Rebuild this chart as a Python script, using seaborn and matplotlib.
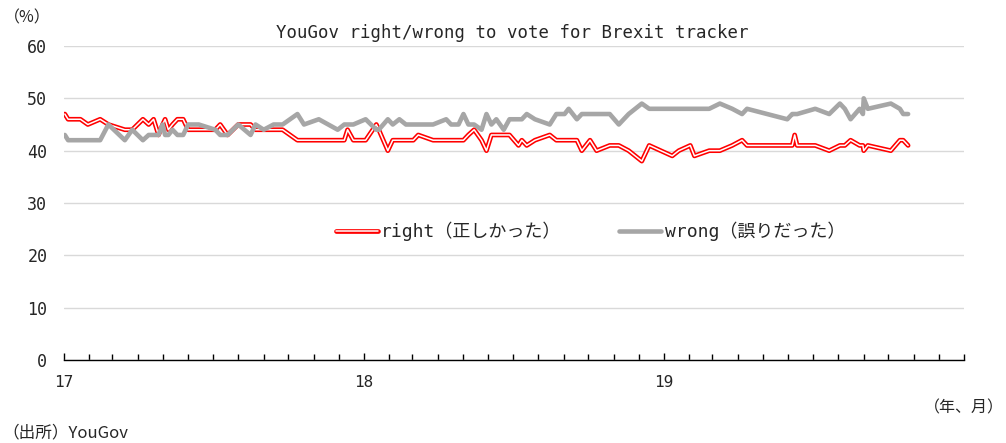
import matplotlib
matplotlib.use("Agg")
import matplotlib.pyplot as plt
import matplotlib.dates as mdates
import matplotlib.patheffects as pe
import matplotlib.ticker as mtick
import pandas as pd
import seaborn as sns

# YouGov tracker: "in hindsight, was Britain right or wrong to vote to leave the EU?"
poll_dates = [
    "2017-01-02", "2017-01-06", "2017-01-21", "2017-01-30", "2017-02-14", "2017-02-24",
    "2017-03-16", "2017-03-25", "2017-04-07", "2017-04-14", "2017-04-20", "2017-04-26",
    "2017-05-01", "2017-05-04", "2017-05-08", "2017-05-13", "2017-05-19", "2017-05-26",
    "2017-06-01", "2017-06-14", "2017-07-04", "2017-07-10", "2017-07-19", "2017-08-01",
    "2017-08-16", "2017-08-22", "2017-09-01", "2017-09-13", "2017-09-24", "2017-10-12",
    "2017-10-20", "2017-11-07", "2017-11-30", "2017-12-08", "2017-12-12", "2017-12-19",
    "2018-01-03", "2018-01-16", "2018-01-19", "2018-01-30", "2018-02-05", "2018-02-13",
    "2018-02-21", "2018-03-02", "2018-03-08", "2018-03-26", "2018-04-11", "2018-04-17",
    "2018-04-26", "2018-05-02", "2018-05-08", "2018-05-15", "2018-05-24", "2018-05-30",
    "2018-06-05", "2018-06-11", "2018-06-20", "2018-06-27", "2018-07-08", "2018-07-12",
    "2018-07-18", "2018-07-28", "2018-08-15", "2018-08-23", "2018-09-02", "2018-09-07",
    "2018-09-17", "2018-09-23", "2018-10-03", "2018-10-11", "2018-10-27", "2018-11-07",
    "2018-11-19", "2018-12-05", "2018-12-14", "2019-01-11", "2019-01-19", "2019-02-02",
    "2019-02-07", "2019-02-25", "2019-03-10", "2019-03-25", "2019-04-06", "2019-04-12",
    "2019-05-31", "2019-06-06", "2019-06-09", "2019-06-12", "2019-07-04", "2019-07-21",
    "2019-08-03", "2019-08-09", "2019-08-16", "2019-08-27", "2019-08-31", "2019-09-01",
    "2019-09-06", "2019-10-04", "2019-10-15", "2019-10-19", "2019-10-25",
]
right_pct = [
    47, 46, 46, 45, 46, 45, 44, 44, 46, 45, 46, 43,
    45, 46, 44, 45, 46, 46, 44, 44, 44, 45, 43, 45,
    45, 44, 44, 44, 44, 42, 42, 42, 42, 42, 44, 42,
    42, 45, 44, 40, 42, 42, 42, 42, 43, 42, 42, 42,
    42, 42, 43, 44, 42, 40, 43, 43, 43, 43, 41, 42,
    41, 42, 43, 42, 42, 42, 42, 40, 42, 40, 41, 41,
    40, 38, 41, 39, 40, 41, 39, 40, 40, 41, 42, 41,
    41, 41, 43, 41, 41, 40, 41, 41, 42, 41, 41, 40,
    41, 40, 42, 42, 41,
]
wrong_pct = [
    43, 42, 42, 42, 42, 45, 42, 44, 42, 43, 43, 43,
    45, 43, 43, 44, 43, 43, 45, 45, 44, 43, 43, 45,
    43, 45, 44, 45, 45, 47, 45, 46, 44, 45, 45, 45,
    46, 44, 44, 46, 45, 46, 45, 45, 45, 45, 46, 45,
    45, 47, 45, 45, 44, 47, 45, 46, 44, 46, 46, 46,
    47, 46, 45, 47, 47, 48, 46, 47, 47, 47, 47, 45,
    47, 49, 48, 48, 48, 48, 48, 48, 49, 48, 47, 48,
    46, 47, 47, 47, 48, 47, 49, 48, 46, 48, 47, 50,
    48, 49, 48, 47, 47,
]
year_labels = ["17", "18", "19"]

df = pd.DataFrame({"date": pd.to_datetime(poll_dates),
                   "right": right_pct, "wrong": wrong_pct})

sns.set_style("white")
# monospace latin like the original, CJK falls back to Noto
plt.rcParams["font.family"] = ["DejaVu Sans Mono", "Noto Sans CJK JP"]
cjk_first = ["Noto Sans CJK JP", "DejaVu Sans Mono"]

fig = plt.figure(figsize=(10.06, 4.43), dpi=100)
ax = fig.add_axes([64 / 1006, 1 - 360 / 443, 900 / 1006, 314 / 443])

sns.lineplot(data=df, x="date", y="right", ax=ax, color="white", linewidth=1.1,
             label="right（正しかった）",
             path_effects=[pe.Stroke(linewidth=3.4, foreground="#ff0000"), pe.Normal()])
sns.lineplot(data=df, x="date", y="wrong", ax=ax, color="#a6a6a6", linewidth=3.3,
             label="wrong（誤りだった）")

ax.set_ylim(0, 60)
ax.set_xlim(pd.Timestamp("2017-01-01"), pd.Timestamp("2020-01-01"))
ax.yaxis.set_major_locator(mtick.MultipleLocator(10))
ax.grid(axis="y", color="#d9d9d9", linewidth=1)
ax.set_axisbelow(True)

years = [pd.Timestamp(f"20{y}-01-01") for y in year_labels]
ax.xaxis.set_major_locator(mtick.FixedLocator(mdates.date2num(years)))
ax.xaxis.set_major_formatter(mtick.FixedFormatter(year_labels))
ax.xaxis.set_minor_locator(mdates.MonthLocator())
ax.tick_params(axis="x", which="both", bottom=True, direction="in", width=1,
               color="black")
ax.tick_params(axis="x", which="major", length=5, labelsize=11.5, pad=11)
ax.tick_params(axis="x", which="minor", length=4)
ax.tick_params(axis="y", length=0, labelsize=12, pad=12)
ax.set_xlabel("")
ax.set_ylabel("")

for side in ["left", "right", "top"]:
    ax.spines[side].set_visible(False)
ax.spines["bottom"].set_color("black")
ax.spines["bottom"].set_linewidth(1)

ax.legend(loc="center", bbox_to_anchor=(0.585, 0.41), ncol=2, frameon=False,
          fontsize=13, handlelength=2.3, columnspacing=3.2, handletextpad=0.2)

fig.text(512 / 1006, 1 - 33 / 443, "YouGov right/wrong to vote for Brexit tracker",
         ha="center", va="center", fontsize=12.5)
fig.text(4 / 1006, 1 - 18 / 443, "（%）", ha="left", va="center", fontsize=11.5,
         family=cjk_first)
fig.text(1004 / 1006, 1 - 408 / 443, "（年、月）", ha="right", va="center", fontsize=11.5,
         family=cjk_first)
fig.text(2 / 1006, 1 - 433 / 443, "（出所）YouGov", ha="left", va="center", fontsize=12,
         family=cjk_first)

fig.savefig("out.png", dpi=100)
